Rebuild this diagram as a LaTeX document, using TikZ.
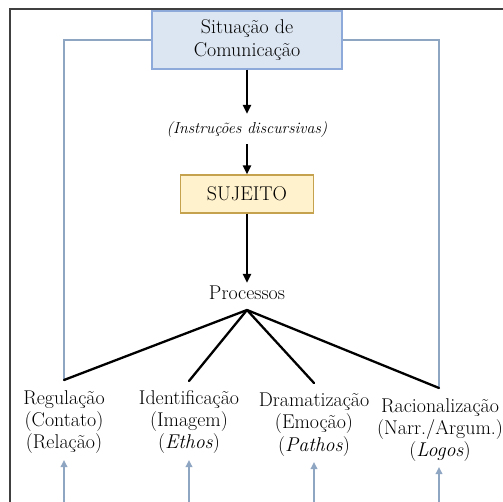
\documentclass[tikz,border=0pt]{standalone}
\usetikzlibrary{arrows.meta}
\definecolor{framegray}{HTML}{404040}
\definecolor{linkblue}{HTML}{8FA6C3}
\definecolor{sitfill}{HTML}{DCE6F2}
\definecolor{sitdraw}{HTML}{8EAADB}
\definecolor{sujfill}{HTML}{FFF2CC}
\definecolor{sujdraw}{HTML}{C4A24E}
\tikzset{
  txt/.style={font=\fontsize{20}{22.5}\selectfont, inner sep=0pt, align=center, text=black},
  sitbox/.style={txt, draw=sitdraw, fill=sitfill, line width=1.2bp, minimum width=190bp, minimum height=58bp},
  sujbox/.style={txt, draw=sujdraw, fill=sujfill, line width=1.2bp, minimum width=133bp, minimum height=38bp},
  flow/.style={line width=2.3bp, -{Triangle[width=8bp,length=9bp]}},
  branch/.style={line width=2.3bp, line cap=round},
  bracket/.style={draw=linkblue, line width=2.6bp},
  uparrow/.style={draw=linkblue, line width=2.6bp, -{Triangle[width=6.5bp,length=7bp]}, linkblue},
  framebox/.style={draw=framegray, line width=1.6bp}
}
\begin{document}
\begin{tikzpicture}[x=1bp, y=-1bp]
\useasboundingbox (0,0) rectangle (503,502);
% outer frame
\draw[framebox] (10,502) -- (10,9) -- (503,9);

% main chain
\node[sitbox] (sit) at (247,40) {Situação de\\Comunicação};
\node[txt, font=\fontsize{16}{19}\selectfont\itshape] (instr) at (247,130) {(Instruções discursivas)};
\node[sujbox] (suj) at (247,194) {SUJEITO};
\node[txt] (proc) at (247,293) {Processos};
\coordinate (apex) at (247,310);

\draw[flow, shorten >=8bp] (sit.south) -- (instr.north);
\draw[flow, shorten <=6bp] (instr.south) -- (suj.north);
\draw[flow, shorten >=3bp] (suj.south) -- (proc.north);

% branch ends
\coordinate (e1) at (64,380);
\coordinate (e2) at (189,381);
\coordinate (e3) at (314,383);
\coordinate (e4) at (439,388);

% blue bracket from the situation box
\draw[bracket] (sit.west) -| (e1);
\draw[bracket] (sit.east) -| (e4);

\draw[branch] (apex) -- (e1);
\draw[branch] (apex) -- (e2);
\draw[branch] (apex) -- (e3);
\draw[branch] (apex) -- (e4);

% process labels
\node[txt] (reg) at (64,422) {Regulação\\(Contato)\\(Relação)};
\node[txt] (ide) at (189,422) {Identificação\\(Imagem)\\(\textit{Ethos})};
\node[txt] (dra) at (314,424.5) {Dramatização\\(Emoção)\\(\textit{Pathos})};
\node[txt] (rac) at (440,430) {Racionalização\\(Narr./Argum.)\\(\textit{Logos})};

% incoming arrows from below
\coordinate (b1) at (64,502);
\coordinate (b2) at (189,502);
\coordinate (b3) at (314,502);
\coordinate (b4) at (439,502);
\coordinate (t1) at (64,460);
\coordinate (t2) at (189,460);
\coordinate (t3) at (314,462);
\coordinate (t4) at (439,467);
\draw[uparrow] (b1) -- (t1);
\draw[uparrow] (b2) -- (t2);
\draw[uparrow] (b3) -- (t3);
\draw[uparrow] (b4) -- (t4);
\end{tikzpicture}
\end{document}
